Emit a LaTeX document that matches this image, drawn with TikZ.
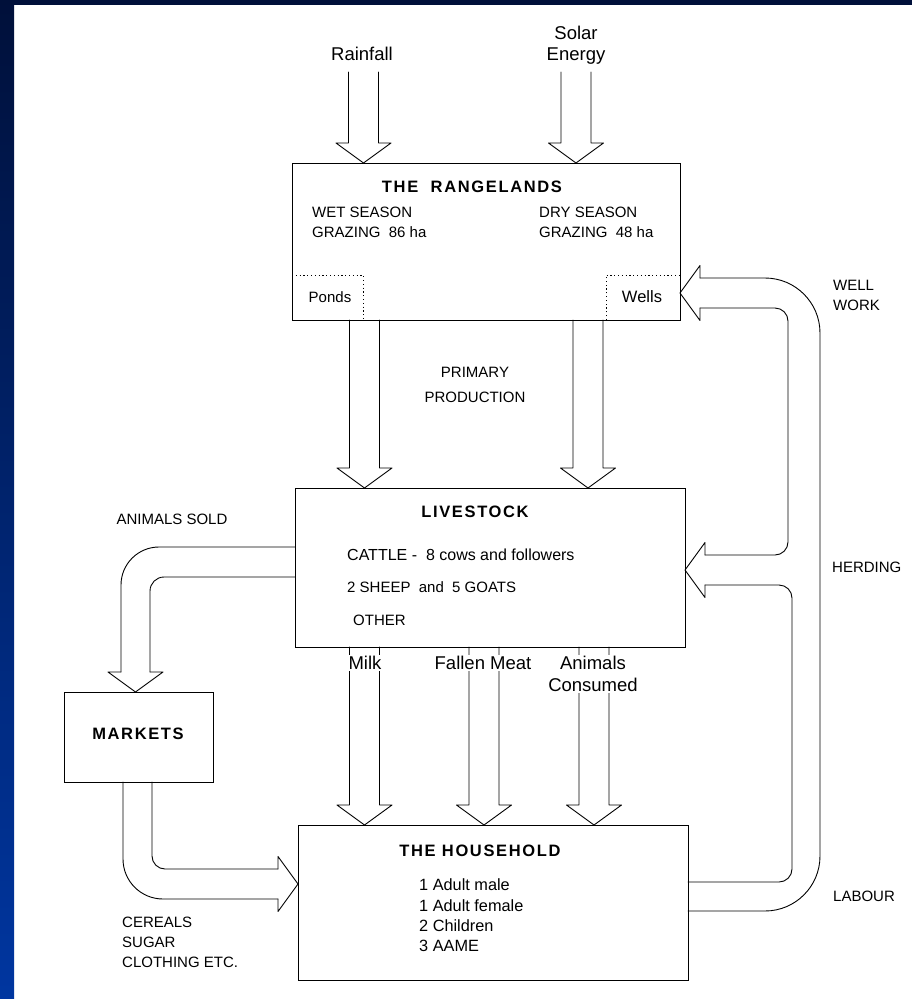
\documentclass[tikz,border=0pt]{standalone}
\usepackage{fontspec}
\setmainfont{Liberation Sans}
\newfontfamily\headfont{Liberation Sans}[LetterSpace=10]
\usetikzlibrary{calc, positioning}

\definecolor{bandtop}{HTML}{00103A}
\definecolor{bandbot}{HTML}{0036A0}

\tikzset{
  box/.style={draw, line width=0.9pt, inner sep=0pt, outer sep=0pt},
  flow/.style={line width=0.9pt, line join=round, line cap=round},
  dots/.style={line width=0.9pt, dash pattern=on 1.2pt off 2.6pt},
  heading/.style={font=\headfont\bfseries\fontsize{16.5}{19}\selectfont, inner sep=0pt},
  txt/.style={font=\fontsize{15}{20}\selectfont, inner sep=0pt},
  bigtxt/.style={font=\fontsize{18.5}{22}\selectfont, inner sep=0pt},
  gap/.style={bigtxt, fill=white, inner sep=1pt}
}

% broad down arrow: x of centre, start point, point where the tip lands
\newcommand{\fatdown}[3]{%
  \draw[flow] let \p1=(#2), \p2=(#3) in
    ({(#1-15)*1pt},\y1) -- ({(#1-15)*1pt},\y2+20pt)
    -- ({(#1-27.5)*1pt},\y2+20pt) -- ({#1*1pt},\y2)
    -- ({(#1+27.5)*1pt},\y2+20pt) -- ({(#1+15)*1pt},\y2+20pt)
    -- ({(#1+15)*1pt},\y1);}

\begin{document}
\begin{tikzpicture}[x=1pt, y=-1pt]
  \useasboundingbox (0,0) rectangle (912,999);
  % page frame
  \fill[white] (0,0) rectangle (912,999);
  \shade[top color=bandtop, bottom color=bandbot] (0,0) rectangle (14,999);
  \fill[bandtop] (0,0) rectangle (912,5);

  % Boxes
  \node[box, minimum width=388pt, minimum height=157pt] (range) at (486,241.5) {};
  \node[box, minimum width=390pt, minimum height=159pt] (stock) at (490,567.5) {};
  \node[box, minimum width=149pt, minimum height=90pt] (market) at (138.5,737) {};
  \node[box, minimum width=390pt, minimum height=155pt] (house) at (493,902.5) {};

  % Inputs
  \node[bigtxt] (rain) at (362,54) {Rainfall};
  \node[bigtxt, align=center, font=\fontsize{18.5}{21}\selectfont] (solar) at (576,45) {Solar\\Energy};
  \coordinate (rainsrc) at (363.5,72);
  \coordinate (solarsrc) at (576,72);
  \fatdown{363.5}{rainsrc}{range.north}
  \fatdown{576}{solarsrc}{range.north}

  % The rangelands
  \node[heading] (rangetitle) at (472,187) {THE \ RANGELANDS};
  \node[txt, align=left, anchor=west] (wet) at (312,222) {WET SEASON\\GRAZING \ 86 ha};
  \node[txt, align=left, anchor=west] (dry) at (539,222) {DRY SEASON\\GRAZING \ 48 ha};
  \draw[dots] (range.west |- 0,275) -- (363,275) -- (363,0 |- range.south);
  \draw[dots] (606,0 |- range.south) -- (606,275) -- (range.east |- 0,275);
  \node[txt] (ponds) at (330,297) {Ponds};
  \node[txt, font=\fontsize{16.5}{20}\selectfont] (wells) at (642,297) {Wells};

  % Primary production
  \fatdown{364.5}{range.south}{stock.north}
  \fatdown{588}{range.south}{stock.north}
  \node[txt, align=center, font=\fontsize{15}{25}\selectfont] (primary) at (475,385) {PRIMARY\\PRODUCTION};

  % Livestock
  \node[heading] (stocktitle) at (475,512) {LIVESTOCK};
  \node[txt, anchor=west, font=\fontsize{16}{20}\selectfont] (cattle) at (347,555) {CATTLE - \ 8 cows and followers};
  \node[txt, anchor=west] (sheep) at (347,587) {2 SHEEP \ and \ 5 GOATS};
  \node[txt, anchor=west] (other) at (353,620) {OTHER};

  % Products to the household
  \fatdown{364.5}{stock.south}{house.north}
  \fatdown{484}{stock.south}{house.north}
  \fatdown{594}{stock.south}{house.north}
  \node[gap] (milk) at (365,663) {Milk};
  \node[gap] (meat) at (483,663) {Fallen Meat};
  \node[gap, align=center] (eaten) at (593,674) {Animals\\Consumed};

  % Markets
  \node[heading] (markettitle) at (138,734) {MARKETS};
  \node[txt] (sold) at (172,519) {ANIMALS SOLD};
  \draw[flow, rounded corners=38pt] (stock.west |- 0,547) -- (121,547) -- (121,672);
  \draw[flow, rounded corners=14pt] (stock.west |- 0,577) -- (150,577) -- (150,672);
  \draw[flow] (121,672) -- (108,672) -- (135.5,0 |- market.north) -- (163,672) -- (150,672);

  \draw[flow, rounded corners=40pt] (123,0 |- market.south) -- (123,899) -- (278,899);
  \draw[flow, rounded corners=13pt] (152,0 |- market.south) -- (152,869) -- (278,869);
  \draw[flow] (278,869) -- (278,856.5) -- (house.west |- 0,884) -- (278,911.5) -- (278,899);
  \node[txt, align=left, anchor=west] (goods) at (122,942) {CEREALS\\SUGAR\\CLOTHING ETC.};

  % The household
  \node[heading] (housetitle) at (480,851) {THE HOUSEHOLD};
  \node[txt, align=left, anchor=west, font=\fontsize{16.3}{20.3}\selectfont] (people) at (419,915.5)
    {1 Adult male\\1 Adult female\\2 Children\\3 AAME};

  % Labour back to wells and herding
  \draw[flow] (700,278) -- (700,265.5) -- (range.east |- 0,293) -- (700,320.5) -- (700,308);
  \draw[flow] (705,555) -- (705,542.5) -- (stock.east |- 0,570) -- (705,597.5) -- (705,585);
  \draw[flow, rounded corners=55pt] (700,278) -- (820,278) -- (820,911) -- (house.east |- 0,911);
  \draw[flow, rounded corners=13pt] (700,308) -- (788,308) -- (788,555) -- (705,555);
  \draw[flow, rounded corners=13pt] (705,585) -- (792,585) -- (792,882) -- (house.east |- 0,882);
  \node[txt, align=left, anchor=west] (wellwork) at (833,295) {WELL\\WORK};
  \node[txt, anchor=west] (herding) at (832,567) {HERDING};
  \node[txt, anchor=west] (labour) at (833,896) {LABOUR};
\end{tikzpicture}
\end{document}
